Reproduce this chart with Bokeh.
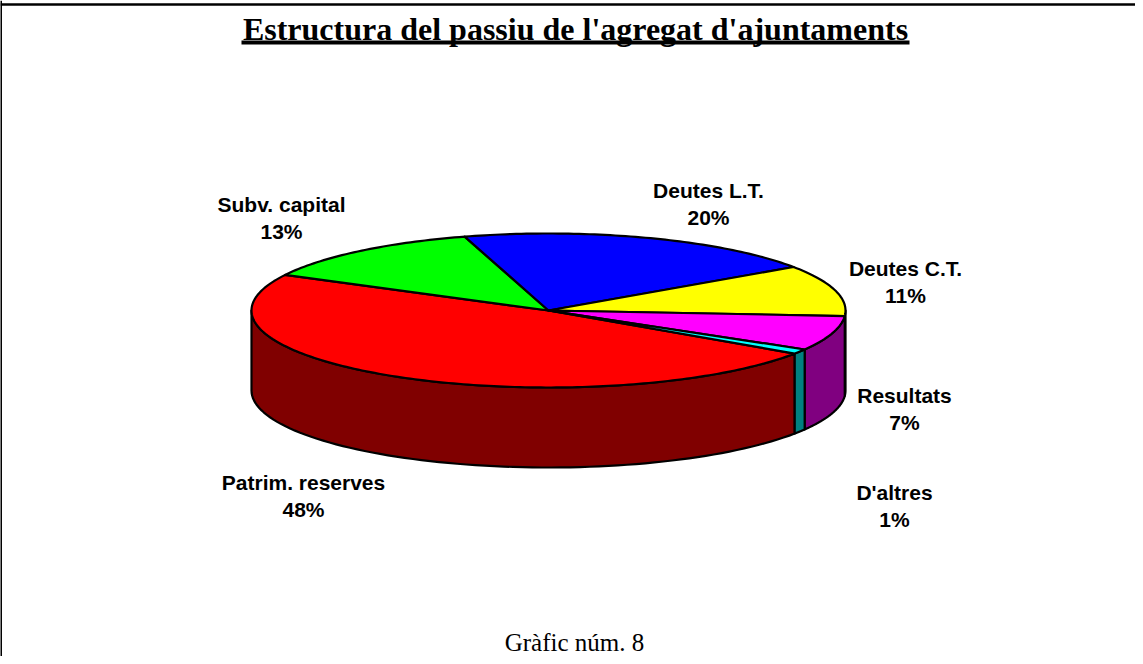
import numpy as np
from bokeh.plotting import figure
from bokeh.models import Range1d
from bokeh.core.properties import value
from bokeh.embed import file_html
from bokeh.resources import INLINE

# ---- data ----
labels = ["Patrim. reserves", "Subv. capital", "Deutes L.T.", "Deutes C.T.", "Resultats", "D'altres"]
values = [48.2, 12.8, 20.0, 10.7, 7.3, 1.0]
top_colors = ["#FF0000", "#00FF00", "#0000FF", "#FFFF00", "#FF00FF", "#00FFFF"]
side_colors = ["#800000", "#008000", "#000080", "#808000", "#800080", "#008080"]
title_text = "Estructura del passiu de l'agregat d'ajuntaments"
footer_text = "Gràfic núm. 8"

# ---- layout (screen-like coords, y downwards) ----
W, H = 1135, 656
cx, cy = 548, 310          # pie centre
a, b = 297, 77             # ellipse radii
depth = 80                 # thickness of the pie
start_deg = -34.0          # angle of first slice edge, slices run clockwise
label_pos = [(303, 482), (281, 204), (708, 190), (905, 268), (904, 395), (894, 492)]
line_gap = 27

p = figure(width=W, height=H, x_range=Range1d(0, W), y_range=Range1d(H, 0),
           min_border=0, toolbar_location=None, output_backend="svg",
           x_axis_location=None, y_axis_location=None)
p.grid.visible = False
p.outline_line_color = None
p.background_fill_color = "white"
p.border_fill_color = "white"

vals = np.array(values, dtype=float)
spans = vals / vals.sum() * 360.0
starts = start_deg - np.concatenate([[0], np.cumsum(spans)[:-1]])
ends = starts - spans


def ell(t_deg, dy=0.0):
    t = np.radians(t_deg)
    return cx + a * np.cos(t), cy - b * np.sin(t) + dy

# side walls (front half only)
side_xs, side_ys, side_fc = [], [], []
for s, e, c in zip(starts, ends, side_colors):
    lo, hi = e, s
    for k in (-2, -1, 0, 1):
        L, Hh = max(lo, -180 + 360 * k), min(hi, 0 + 360 * k)
        if Hh - L > 1e-6:
            t = np.linspace(L, Hh, 80)
            x1, y1 = ell(t)
            x2, y2 = ell(t[::-1], depth)
            side_xs.append(list(np.concatenate([x1, x2])))
            side_ys.append(list(np.concatenate([y1, y2])))
            side_fc.append(c)
p.patches(side_xs, side_ys, fill_color=side_fc, line_color="black", line_width=2.2,
          line_join="round")

# top wedges
top_xs, top_ys = [], []
for s, e in zip(starts, ends):
    t = np.linspace(s, e, max(int(abs(s - e)), 4))
    x, y = ell(t)
    top_xs.append([cx] + list(x))
    top_ys.append([cy] + list(y))
p.patches(top_xs, top_ys, fill_color=top_colors, line_color="black", line_width=2.2,
          line_join="round")

# labels
pct = [f"{round(v / vals.sum() * 100):.0f}%" for v in vals]
lx = [q[0] for q in label_pos]
ly = [q[1] for q in label_pos]
p.text(lx, ly, text=labels, text_align="center", text_baseline="middle",
       text_font=value("Liberation Sans"), text_font_style="bold",
       text_font_size="21px", text_color="black")
p.text(lx, [y + line_gap for y in ly], text=pct, text_align="center",
       text_baseline="middle", text_font=value("Liberation Sans"),
       text_font_style="bold", text_font_size="21px", text_color="black")

# title with underline
tx, ty = 575, 28
p.text([tx], [ty], text=[title_text], text_align="center", text_baseline="middle",
       text_font=value("Liberation Serif"), text_font_style="bold",
       text_font_size="32px", text_color="black")
p.segment(x0=[241], y0=[42], x1=[909], y1=[42], line_color="black", line_width=4)

# footer
p.text([574], [642], text=[footer_text], text_align="center", text_baseline="middle",
       text_font=value("Liberation Serif"), text_font_size="25px", text_color="black")

# frame
p.segment(x0=[0], y0=[0], x1=[0], y1=[H + 10], line_color="black", line_width=3)
p.segment(x0=[0], y0=[4], x1=[W + 10], y1=[4], line_color="black", line_width=2.5)

open("out.html", "w").write(file_html(p, INLINE))
